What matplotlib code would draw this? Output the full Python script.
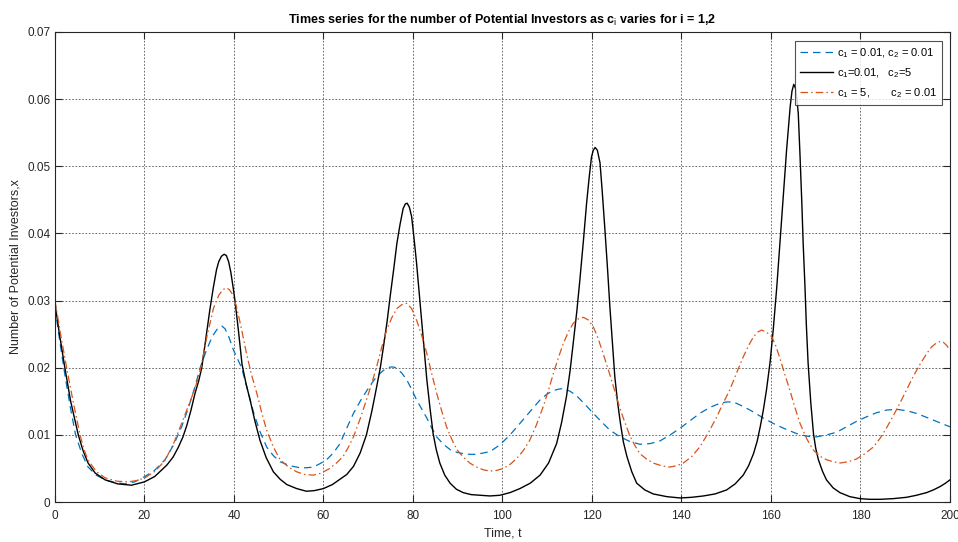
import matplotlib.pyplot as plt

plt.rcParams['font.family'] = ['Liberation Sans', 'DejaVu Sans']
plt.rcParams['mathtext.fontset'] = 'custom'
plt.rcParams['mathtext.rm'] = 'Liberation Sans'

# c1 = 0.01, c2 = 0.01
t_blue = [0, 1.1, 2.2, 3.4, 4.6, 6.0, 7.4, 9.2, 11.2, 13.4, 15.6, 17.8, 20.1, 22.4, 24.6,
          26.5, 28.3, 29.8, 31.3, 32.4, 33.5, 34.6, 35.4, 36.2, 37.3, 38.0, 38.9, 39.9,
          40.8, 41.7, 43.0, 44.3, 45.8, 47.3, 48.8, 50.3, 52.5, 54.7, 56.2, 57.7, 59.2,
          60.7, 62.2, 63.7, 65.2, 66.7, 68.2, 69.6, 70.8, 71.9, 73.4, 74.9, 75.7, 76.4,
          77.5, 78.6, 79.7, 80.8, 82.0, 83.1, 84.2, 85.3, 86.8, 88.3, 89.8, 91.2, 92.7,
          94.2, 95.7, 97.2, 98.3, 99.4, 101.7, 103.9, 106.2, 108.4, 110.0, 111.4, 112.5,
          113.6, 115.1, 116.6, 118.5, 120.3, 122.2, 124.0, 126.3, 128.5, 130.7, 133.0,
          135.2, 137.5, 139.7, 141.9, 144.1, 146.4, 148.6, 150.1, 151.6, 153.9, 156.1,
          158.3, 160.5, 163.1, 165.7, 168.0, 170.2, 172.5, 174.7, 176.9, 179.1, 181.4,
          183.6, 185.9, 188.1, 190.3, 192.5, 194.8, 197.0, 200]
x_blue = [0.0290, 0.0238, 0.0190, 0.0142, 0.0100, 0.0072, 0.0052, 0.0040, 0.0033, 0.0029,
          0.0027, 0.0030, 0.0038, 0.0048, 0.0063, 0.0085, 0.0112, 0.0140, 0.0172, 0.0199,
          0.0220, 0.0238, 0.0249, 0.0257, 0.0262, 0.0258, 0.0245, 0.0226, 0.0213, 0.0200,
          0.0168, 0.0135, 0.0105, 0.0082, 0.0069, 0.0060, 0.0054, 0.0051, 0.0051, 0.0052,
          0.0057, 0.0063, 0.0073, 0.0087, 0.0110, 0.0132, 0.0150, 0.0165, 0.0177, 0.0187,
          0.0196, 0.0201, 0.0201, 0.0199, 0.0192, 0.0182, 0.0168, 0.0152, 0.0138, 0.0125,
          0.0110, 0.0097, 0.0086, 0.0078, 0.0074, 0.0072, 0.0071, 0.0071, 0.0073, 0.0075,
          0.0080, 0.0085, 0.0100, 0.0117, 0.0135, 0.0152, 0.0161, 0.0166, 0.0168, 0.0169,
          0.0165, 0.0158, 0.0145, 0.0132, 0.0119, 0.0107, 0.0097, 0.0090, 0.0086, 0.0087,
          0.0091, 0.0100, 0.0110, 0.0121, 0.0132, 0.0141, 0.0147, 0.0149, 0.0149, 0.0142,
          0.0134, 0.0125, 0.0117, 0.0109, 0.0102, 0.0098, 0.0097, 0.0100, 0.0104, 0.0112,
          0.0120, 0.0127, 0.0133, 0.0137, 0.0138, 0.0136, 0.0132, 0.0126, 0.0120, 0.0112]

# c1 = 0.01, c2 = 5
t_black = [0, 1.0, 2.2, 3.5, 5.2, 6.3, 7.4, 9.0, 11.2, 14.0, 17.1, 20.0, 22.3, 25.0, 26.4,
           27.6, 28.6, 29.5, 30.4, 31.3, 32.1, 32.8, 33.7, 34.6, 35.4, 36.1, 36.6, 37.2,
           37.8, 38.3, 38.8, 39.3, 39.8, 40.2, 41.0, 41.8, 42.7, 43.6, 44.7, 45.8, 47.2,
           48.8, 50.3, 51.8, 54.0, 56.2, 58.0, 60.0, 62.0, 63.7, 65.2, 66.7, 68.2, 69.6,
           70.8, 71.9, 72.7, 73.4, 74.2, 74.9, 75.7, 76.4, 77.1, 77.8, 78.3, 78.7, 79.2,
           79.7, 80.2, 80.8, 81.3, 81.9, 82.5, 83.1, 83.8, 84.5, 85.2, 86.0, 87.1, 88.3,
           89.7, 91.2, 93.0, 95.0, 97.2, 99.4, 101.7, 103.9, 106.2, 108.4, 110.3, 112.1,
           113.2, 114.3, 115.1, 115.8, 116.6, 117.3, 118.1, 118.8, 119.4, 119.9, 120.3,
           120.7, 121.2, 121.8, 122.3, 122.9, 123.5, 124.0, 124.6, 125.1, 125.7, 126.3,
           127.0, 127.8, 128.9, 130.0, 131.8, 133.7, 136.7, 139.7, 142.3, 144.9, 147.5,
           150.1, 152.0, 153.8, 155.0, 156.1, 156.9, 157.6, 158.3, 159.0, 159.8, 160.5,
           161.3, 162.0, 162.8, 163.5, 164.3, 164.7, 165.1, 165.5, 165.8, 166.1, 166.5,
           166.9, 167.2, 167.6, 167.9, 168.3, 168.9, 169.5, 170.0, 170.6, 171.5, 172.4,
           173.9, 175.4, 177.6, 179.9, 182.1, 184.4, 187.3, 190.3, 192.5, 194.8, 196.3,
           197.8, 199.0, 200]
x_black = [0.0295, 0.0250, 0.0200, 0.0150, 0.0100, 0.0076, 0.0058, 0.0043, 0.0033, 0.0027,
           0.0025, 0.0030, 0.0038, 0.0055, 0.0067, 0.0082, 0.0097, 0.0115, 0.0137, 0.0162,
           0.0180, 0.0200, 0.0243, 0.0286, 0.0320, 0.0346, 0.0358, 0.0366, 0.0369, 0.0367,
           0.0358, 0.0342, 0.0320, 0.0301, 0.0255, 0.0205, 0.0176, 0.0152, 0.0120, 0.0092,
           0.0066, 0.0045, 0.0034, 0.0026, 0.0020, 0.0016, 0.0017, 0.0020, 0.0026, 0.0034,
           0.0041, 0.0053, 0.0073, 0.0100, 0.0135, 0.0172, 0.0200, 0.0231, 0.0268, 0.0306,
           0.0347, 0.0385, 0.0413, 0.0437, 0.0444, 0.0445, 0.0439, 0.0425, 0.0395, 0.0356,
           0.0318, 0.0271, 0.0225, 0.0182, 0.0140, 0.0102, 0.0078, 0.0058, 0.0040, 0.0028,
           0.0019, 0.0014, 0.0011, 0.0010, 0.0009, 0.0010, 0.0014, 0.0020, 0.0028, 0.0040,
           0.0058, 0.0087, 0.0118, 0.0157, 0.0195, 0.0236, 0.0283, 0.0331, 0.0390, 0.0445,
           0.0485, 0.0514, 0.0524, 0.0528, 0.0524, 0.0505, 0.0462, 0.0405, 0.0345, 0.0291,
           0.0235, 0.0187, 0.0150, 0.0120, 0.0090, 0.0068, 0.0045, 0.0028, 0.0018, 0.0012,
           0.0008, 0.0006, 0.0007, 0.0009, 0.0012, 0.0018, 0.0027, 0.0040, 0.0054, 0.0072,
           0.0090, 0.0112, 0.0137, 0.0167, 0.0208, 0.0256, 0.0320, 0.0385, 0.0458, 0.0525,
           0.0589, 0.0612, 0.0622, 0.0616, 0.0600, 0.0579, 0.0515, 0.0445, 0.0385, 0.0321,
           0.0265, 0.0207, 0.0148, 0.0102, 0.0080, 0.0063, 0.0046, 0.0033, 0.0021, 0.0014,
           0.0008, 0.0005, 0.0004, 0.0004, 0.0005, 0.0007, 0.0010, 0.0014, 0.0018, 0.0023,
           0.0028, 0.0033]

# c1 = 5, c2 = 0.01
t_orange = [0, 1.3, 2.6, 4.1, 5.6, 6.5, 7.4, 9.3, 11.2, 13.8, 16.4, 18.3, 20.1, 22.4, 24.6,
            26.5, 28.3, 29.8, 31.3, 32.6, 34.0, 35.4, 36.6, 37.5, 38.3, 39.0, 39.6, 40.6,
            41.7, 42.8, 43.9, 45.1, 46.2, 47.3, 48.8, 50.3, 52.2, 54.0, 55.8, 57.7, 59.5,
            61.4, 62.9, 64.4, 65.6, 66.7, 68.2, 69.6, 70.8, 71.9, 73.0, 74.1, 75.3, 76.4,
            77.5, 78.6, 79.7, 80.8, 82.0, 83.1, 84.2, 85.3, 86.4, 87.5, 88.7, 89.8, 91.2,
            92.7, 94.2, 95.7, 97.2, 98.7, 100.2, 101.7, 103.2, 104.7, 106.1, 107.6, 109.1,
            110.3, 111.4, 112.5, 113.6, 114.7, 115.8, 117.0, 118.1, 119.2, 120.3, 121.4,
            122.5, 123.7, 124.8, 125.9, 127.0, 128.5, 129.6, 130.7, 132.2, 133.7, 135.5,
            137.4, 138.9, 140.4, 142.2, 144.1, 146.0, 147.9, 149.3, 150.8, 152.3, 153.8,
            155.0, 156.1, 157.0, 157.9, 159.0, 160.2, 161.1, 162.0, 163.1, 164.2, 165.3,
            166.5, 168.0, 169.5, 171.0, 172.4, 173.9, 175.4, 177.3, 179.1, 181.0, 182.9,
            184.4, 185.8, 187.3, 188.8, 190.3, 191.8, 193.3, 194.8, 195.9, 197.0, 197.8,
            198.5, 199.3, 200]
x_orange = [0.0300, 0.0248, 0.0200, 0.0148, 0.0100, 0.0078, 0.0062, 0.0045, 0.0036, 0.0031,
            0.0030, 0.0032, 0.0036, 0.0046, 0.0062, 0.0087, 0.0117, 0.0143, 0.0169, 0.0200,
            0.0248, 0.0288, 0.0308, 0.0316, 0.0319, 0.0316, 0.0310, 0.0290, 0.0257, 0.0221,
            0.0190, 0.0162, 0.0133, 0.0107, 0.0082, 0.0063, 0.0052, 0.0045, 0.0041, 0.0040,
            0.0043, 0.0050, 0.0058, 0.0068, 0.0082, 0.0097, 0.0124, 0.0152, 0.0177, 0.0202,
            0.0230, 0.0256, 0.0275, 0.0288, 0.0294, 0.0296, 0.0288, 0.0271, 0.0247, 0.0221,
            0.0191, 0.0162, 0.0136, 0.0112, 0.0093, 0.0078, 0.0067, 0.0058, 0.0052, 0.0048,
            0.0046, 0.0047, 0.0050, 0.0056, 0.0065, 0.0077, 0.0092, 0.0115, 0.0142, 0.0167,
            0.0192, 0.0215, 0.0236, 0.0253, 0.0266, 0.0273, 0.0275, 0.0271, 0.0261, 0.0243,
            0.0221, 0.0196, 0.0172, 0.0147, 0.0125, 0.0098, 0.0084, 0.0072, 0.0064, 0.0058,
            0.0054, 0.0052, 0.0054, 0.0058, 0.0067, 0.0082, 0.0103, 0.0127, 0.0147, 0.0167,
            0.0192, 0.0216, 0.0233, 0.0246, 0.0253, 0.0256, 0.0253, 0.0246, 0.0232, 0.0214,
            0.0190, 0.0167, 0.0142, 0.0117, 0.0094, 0.0077, 0.0068, 0.0063, 0.0060, 0.0058,
            0.0060, 0.0064, 0.0072, 0.0082, 0.0095, 0.0110, 0.0128, 0.0147, 0.0167, 0.0187,
            0.0205, 0.0221, 0.0231, 0.0237, 0.0239, 0.0238, 0.0233, 0.0226]

labels = ['c$_1$ = 0.01, c$_2$ = 0.01', 'c$_1$=0.01,   c$_2$=5', 'c$_1$ = 5,       c$_2$ = 0.01']
x_ticks = [0, 20, 40, 60, 80, 100, 120, 140, 160, 180, 200]
y_ticks = [0, 0.01, 0.02, 0.03, 0.04, 0.05, 0.06, 0.07]
y_ticklabels = ['0', '0.01', '0.02', '0.03', '0.04', '0.05', '0.06', '0.07']

fig = plt.figure(figsize=(9.58, 5.42), dpi=100)
ax = fig.add_axes([0.0574, 0.0738, 0.9342, 0.8672])

ax.plot(t_blue, x_blue, color='#0072BD', ls=(0, (6, 4)), lw=0.9, label=labels[0])
ax.plot(t_black, x_black, color='black', ls='-', lw=1.0, label=labels[1])
ax.plot(t_orange, x_orange, color='#D95319', ls=(0, (6, 2.5, 1.2, 2.5)), lw=0.9, label=labels[2])

ax.set_xlim(0, 200)
ax.set_ylim(0, 0.07)
ax.set_xticks(x_ticks)
ax.set_yticks(y_ticks)
ax.set_yticklabels(y_ticklabels)
ax.tick_params(direction='in', length=5, width=0.8, top=True, right=True,
               labelsize=8.5, labelcolor='#262626', colors='#262626')
ax.tick_params(axis='x', pad=6)
ax.grid(True, color='#555555', ls=(0, (2, 2)), lw=0.6)
for s in ax.spines.values():
    s.set_color('#262626')
    s.set_linewidth(0.8)

ax.set_title('Times series for the number of Potential Investors as c$_\\mathrm{i}$ varies for i = 1,2',
             fontsize=9, fontweight='bold', pad=6)
ax.set_xlabel('Time, t', fontsize=9, color='#262626', labelpad=4)
ax.set_ylabel('Number of Potential Investors,x', fontsize=9, color='#262626', labelpad=4)

leg = ax.legend(loc='upper right', bbox_to_anchor=(0.991, 0.981), fontsize=8,
                frameon=True, fancybox=False, handlelength=3.0, borderpad=0.45,
                labelspacing=0.6, handletextpad=0.3, borderaxespad=0)
leg.get_frame().set_edgecolor('#262626')
leg.get_frame().set_linewidth(0.8)

fig.savefig('out.png', dpi=100)
